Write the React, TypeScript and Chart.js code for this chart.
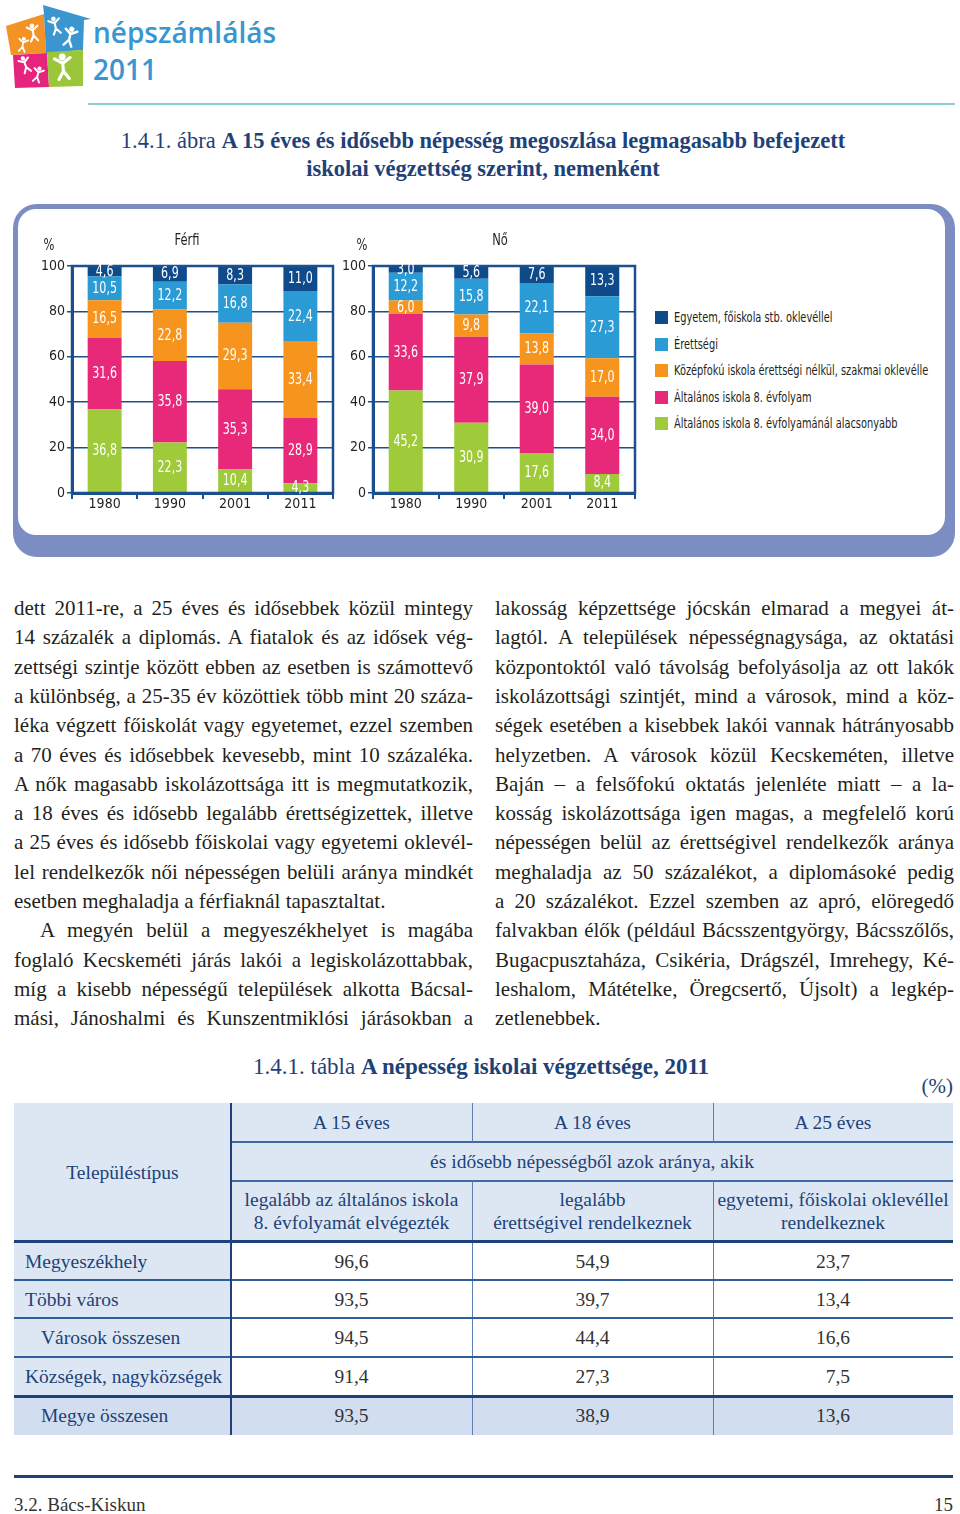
import React, { useEffect, useRef } from "react";
import { Chart, registerables } from "chart.js";

Chart.register(...registerables);

// ---------- chart data ----------
const years = ["1980", "1990", "2001", "2011"];
const levelNames = [
  "Egyetem, főiskola stb. oklevéllel",
  "Érettségi",
  "Középfokú iskola érettségi nélkül, szakmai oklevélle",
  "Általános iskola 8. évfolyam",
  "Általános iskola 8. évfolyamánál alacsonyabb",
];
const levelColors = ["#0f4a8a", "#2b9bd6", "#f7941d", "#e8297a", "#9fcb3b"];

const maleUniversity = [4.6, 6.9, 8.3, 11.0];
const maleMatura = [10.5, 12.2, 16.8, 22.4];
const maleVocational = [16.5, 22.8, 29.3, 33.4];
const malePrimary8 = [31.6, 35.8, 35.3, 28.9];
const maleBelow8 = [36.8, 22.3, 10.4, 4.3];

const femaleUniversity = [3.0, 5.6, 7.6, 13.3];
const femaleMatura = [12.2, 15.8, 22.1, 27.3];
const femaleVocational = [6.0, 9.8, 13.8, 17.0];
const femalePrimary8 = [33.6, 37.9, 39.0, 34.0];
const femaleBelow8 = [45.2, 30.9, 17.6, 8.4];

const yTickValues = [0, 20, 40, 60, 80, 100];

// ---------- table data ----------
const settlementTypes = [
  "Megyeszékhely",
  "Többi város",
  "Városok összesen",
  "Községek, nagyközségek",
  "Megye összesen",
];
const atLeastPrimary = [96.6, 93.5, 94.5, 91.4, 93.5];
const atLeastMatura = [54.9, 39.7, 44.4, 27.3, 38.9];
const withDegree = [23.7, 13.4, 16.6, 7.5, 13.6];

// ---------- body text ----------
const leftLines = [
  "dett 2011-re, a 25 éves és idősebbek közül mintegy",
  "14 százalék a diplomás. A fiatalok és az idősek vég-",
  "zettségi szintje között ebben az esetben is számottevő",
  "a különbség, a 25-35 év közöttiek több mint 20 száza-",
  "léka végzett főiskolát vagy egyetemet, ezzel szemben",
  "a 70 éves és idősebbek kevesebb, mint 10 százaléka.",
  "A nők magasabb iskolázottsága itt is megmutatkozik,",
  "a 18 éves és idősebb legalább érettségizettek, illetve",
  "a 25 éves és idősebb főiskolai vagy egyetemi oklevél-",
  "lel rendelkezők női népességen belüli aránya mindkét",
  "esetben meghaladja a férfiaknál tapasztaltat.",
  "A megyén belül a megyeszékhelyet is magába",
  "foglaló Kecskeméti járás lakói a legiskolázottabbak,",
  "míg a kisebb népességű települések alkotta Bácsal-",
  "mási, Jánoshalmi és Kunszentmiklósi járásokban a",
];
const rightLines = [
  "lakosság képzettsége jócskán elmarad a megyei át-",
  "lagtól. A települések népességnagysága, az oktatási",
  "központoktól való távolság befolyásolja az ott lakók",
  "iskolázottsági szintjét, mind a városok, mind a köz-",
  "ségek esetében a kisebbek lakói vannak hátrányosabb",
  "helyzetben. A városok közül Kecskeméten, illetve",
  "Baján – a felsőfokú oktatás jelenléte miatt – a la-",
  "kosság iskolázottsága igen magas, a megfelelő korú",
  "népességen belül az érettségivel rendelkezők aránya",
  "meghaladja az 50 százalékot, a diplomásoké pedig",
  "a 20 százalékot. Ezzel szemben az apró, elöregedő",
  "falvakban élők (például Bácsszentgyörgy, Bácsszőlős,",
  "Bugacpusztaháza, Csikéria, Drágszél, Imrehegy, Ké-",
  "leshalom, Mátételke, Öregcsertő, Újsolt) a legkép-",
  "zetlenebbek.",
];
const leftParagraphEnds = [10];
const leftIndents = [11];
const rightParagraphEnds = [14];

const AXIS = "#1b4f8e";
const NAVY = "#1e4277";
const NARROW = '"Liberation Sans Narrow", "DejaVu Sans Condensed", sans-serif';
const SERIF = '"Liberation Serif", "DejaVu Serif", serif';

const fmt = (v: number) => v.toFixed(1).replace(".", ",");

type Series = { label: string; data: number[]; color: string };

function condensedText(ctx: CanvasRenderingContext2D, text: string, x: number, y: number, sx: number) {
  ctx.save();
  ctx.translate(x, y);
  ctx.scale(sx, 1);
  ctx.fillText(text, 0, 0);
  ctx.restore();
}

function StackedBars(props: {
  left: number;
  top: number;
  width: number;
  height: number;
  yWidth: number;
  title: string;
  titleX: number;
  pctX: number;
  series: Series[];
}) {
  const ref = useRef<HTMLCanvasElement>(null);
  useEffect(() => {
    const canvas = ref.current!;
    const decor = {
      id: "decor",
      afterDatasetsDraw(chart: any) {
        const { ctx, chartArea: a } = chart;
        ctx.save();
        ctx.strokeStyle = AXIS;
        ctx.lineWidth = 2.5;
        ctx.strokeRect(a.left, a.top, a.right - a.left, a.bottom - a.top);
        ctx.fillStyle = "#ffffff";
        ctx.font = `15px ${NARROW}`;
        ctx.textAlign = "center";
        ctx.textBaseline = "middle";
        chart.data.datasets.forEach((ds: any, i: number) => {
          const meta = chart.getDatasetMeta(i);
          meta.data.forEach((bar: any, j: number) => {
            const p = bar.getProps(["x", "y", "base"], true);
            condensedText(ctx, fmt(ds.data[j]), p.x, (p.y + p.base) / 2 + 0.5, 0.82);
          });
        });
        ctx.fillStyle = "#231f20";
        condensedText(ctx, props.title, props.titleX, 11, 0.85);
        condensedText(ctx, "%", props.pctX, 16, 0.85);
        ctx.restore();
      },
    };
    const chart = new Chart(canvas, {
      type: "bar",
      data: {
        labels: years,
        datasets: props.series.map((s) => ({
          label: s.label,
          data: s.data,
          backgroundColor: s.color,
          borderWidth: 0,
          barPercentage: 0.52,
          categoryPercentage: 1,
        })),
      },
      options: {
        animation: false,
        responsive: false,
        maintainAspectRatio: false,
        devicePixelRatio: 1,
        layout: { padding: { left: 0, right: 7, top: 36, bottom: 0 } },
        plugins: {
          legend: { display: false },
          tooltip: { enabled: false },
          title: { display: false },
        },
        scales: {
          x: {
            stacked: true,
            offset: true,
            grid: {
              offset: true,
              drawOnChartArea: false,
              drawTicks: true,
              tickLength: 6,
              color: AXIS,
              lineWidth: 2,
            },
            border: { display: true, color: AXIS, width: 3 },
            ticks: {
              color: "#231f20",
              font: { family: NARROW, size: 14 },
              padding: -3,
              maxRotation: 0,
              autoSkip: false,
            },
            afterFit: (s: any) => {
              s.height = 37;
            },
          },
          y: {
            stacked: true,
            min: 0,
            max: 100,
            afterBuildTicks: (s: any) => {
              s.ticks = yTickValues.map((v) => ({ value: v }));
            },
            grid: {
              color: AXIS,
              lineWidth: 1.5,
              drawTicks: true,
              tickLength: 5,
            },
            border: { display: true, color: AXIS, width: 3 },
            ticks: {
              color: "#231f20",
              font: { family: NARROW, size: 14 },
              padding: 2,
            },
            afterFit: (s: any) => {
              s.width = props.yWidth;
            },
          },
        },
      },
      plugins: [decor],
    } as any);
    return () => chart.destroy();
  }, []);
  return (
    <canvas
      ref={ref}
      width={props.width}
      height={props.height}
      style={{
        position: "absolute",
        left: props.left,
        top: props.top,
        width: props.width,
        height: props.height,
      }}
    />
  );
}

function Figure({ x, y, s = 1, r = 0 }: { x: number; y: number; s?: number; r?: number }) {
  return (
    <g transform={`translate(${x},${y}) rotate(${r}) scale(${s})`} stroke="#fff" strokeWidth={2.4} strokeLinecap="round" fill="none">
      <circle cx={0} cy={-7} r={2.6} fill="#fff" stroke="none" />
      <path d="M0,-3 L0,4 M-6,-6 L0,-2 L6,-6 M0,4 L-4,10 M0,4 L4,10" />
    </g>
  );
}

function Logo() {
  return (
    <svg style={{ position: "absolute", left: 0, top: 0 }} width={92} height={92}>
      <polygon points="6,26 44,14 46,53 11,55" fill="#f39325" />
      <polygon points="43,5 91,19 84,20 83,50 46,53 44,14" fill="#3b95cf" />
      <polygon points="13,55 47,53 49,87 15,88" fill="#e5257d" />
      <polygon points="47,52 83,50 83,86 49,87" fill="#9cc63a" />
      <Figure x={33} y={32} s={0.9} r={-10} />
      <Figure x={23} y={44} s={0.75} r={10} />
      <Figure x={55} y={25} s={0.9} r={-15} />
      <Figure x={70} y={36} s={1} r={15} />
      <Figure x={25} y={64} s={0.85} r={-20} />
      <Figure x={38} y={74} s={0.8} r={15} />
      <Figure x={63} y={66} s={1.3} r={-5} />
    </svg>
  );
}

const abs = (left: number, top: number, extra: React.CSSProperties = {}): React.CSSProperties => ({
  position: "absolute",
  left,
  top,
  ...extra,
});

function Cell(props: {
  x: number;
  y: number;
  w: number;
  h: number;
  children: React.ReactNode;
  align?: "center" | "left";
  pad?: number;
  color?: string;
  lh?: number;
}) {
  return (
    <div
      style={{
        position: "absolute",
        left: props.x,
        top: props.y,
        width: props.w,
        height: props.h,
        display: "flex",
        alignItems: "center",
        justifyContent: props.align === "left" ? "flex-start" : "center",
        textAlign: props.align === "left" ? "left" : "center",
        paddingLeft: props.pad || 0,
        boxSizing: "border-box",
        color: props.color || NAVY,
        fontSize: 19.5,
        lineHeight: `${props.lh || 23}px`,
        whiteSpace: "pre",
      }}
    >
      {props.children}
    </div>
  );
}

function TextColumn({ lines, left, ends, indents }: { lines: string[]; left: number; ends: number[]; indents: number[] }) {
  return (
    <>
      {lines.map((t, i) => {
        const last = ends.includes(i);
        const ind = indents.includes(i) ? 26 : 0;
        return (
          <div
            key={i}
            style={{
              position: "absolute",
              left: left + ind,
              top: 594 + i * 29.3,
              width: 459 - ind,
              height: 29.3,
              lineHeight: "29.3px",
              fontSize: 21,
              color: "#231f20",
              whiteSpace: "nowrap",
              textAlign: last ? "left" : "justify",
              textAlignLast: last ? "left" : "justify",
            } as React.CSSProperties}
          >
            {t}
          </div>
        );
      })}
    </>
  );
}

export default function App() {
  const maleSeries: Series[] = [
    { label: levelNames[4], data: maleBelow8, color: levelColors[4] },
    { label: levelNames[3], data: malePrimary8, color: levelColors[3] },
    { label: levelNames[2], data: maleVocational, color: levelColors[2] },
    { label: levelNames[1], data: maleMatura, color: levelColors[1] },
    { label: levelNames[0], data: maleUniversity, color: levelColors[0] },
  ];
  const femaleSeries: Series[] = [
    { label: levelNames[4], data: femaleBelow8, color: levelColors[4] },
    { label: levelNames[3], data: femalePrimary8, color: levelColors[3] },
    { label: levelNames[2], data: femaleVocational, color: levelColors[2] },
    { label: levelNames[1], data: femaleMatura, color: levelColors[1] },
    { label: levelNames[0], data: femaleUniversity, color: levelColors[0] },
  ];

  const colX = [14, 231, 472, 713, 953];
  const rowY = [1242, 1280, 1318, 1357, 1396, 1435];
  const numCell = (v: number) => (v < 10 ? "\u2007" + fmt(v) : fmt(v));

  return (
    <div
      style={{
        position: "absolute",
        left: 0,
        top: 0,
        width: 960,
        height: 1514,
        background: "#ffffff",
        overflow: "hidden",
        fontFamily: SERIF,
      }}
    >
      <Logo />
      <div style={abs(93, 18, { fontFamily: '"Open Sans", sans-serif', fontWeight: 600, fontSize: 28, lineHeight: "28px", color: "#3a96cf" })}>népszámlálás</div>
      <div style={abs(93, 55, { fontFamily: '"Open Sans", sans-serif', fontWeight: 600, fontSize: 28, lineHeight: "28px", color: "#3a96cf" })}>2011</div>
      <div style={abs(88, 103, { width: 867, height: 2, background: "#8ccbcd" })} />

      <div style={abs(0, 127, { width: 966, textAlign: "center", fontSize: 22.5, lineHeight: "28px", color: NAVY, whiteSpace: "nowrap" })}>
        1.4.1. ábra <b>A 15 éves és idősebb népesség megoszlása legmagasabb befejezett</b>
      </div>
      <div style={abs(0, 155, { width: 966, textAlign: "center", fontSize: 22.5, lineHeight: "28px", color: NAVY, whiteSpace: "nowrap" })}>
        <b>iskolai végzettség szerint, nemenként</b>
      </div>

      {/* chart frame */}
      <div style={abs(13, 204, { width: 942, height: 353, borderRadius: 24, background: "#7b8dc3" })} />
      <div style={abs(18, 209, { width: 927, height: 326, borderRadius: 18, background: "#ffffff" })} />

      <StackedBars left={30} top={230} width={310} height={300} yWidth={42} title="Férfi" titleX={157} pctX={19} series={maleSeries} />
      <StackedBars left={340} top={230} width={302} height={300} yWidth={33} title="Nő" titleX={160} pctX={22} series={femaleSeries} />

      {levelNames.map((name, i) => (
        <React.Fragment key={name}>
          <div style={abs(655, 311 + i * 26.5, { width: 13, height: 13, background: levelColors[i] })} />
          <div
            style={abs(674, 308 + i * 26.5, {
              fontFamily: NARROW,
              fontSize: 14,
              lineHeight: "19px",
              color: "#231f20",
              whiteSpace: "nowrap",
              transform: "scaleX(0.78)",
              transformOrigin: "left center",
            })}
          >
            {name}
          </div>
        </React.Fragment>
      ))}

      <TextColumn lines={leftLines} left={14} ends={leftParagraphEnds} indents={leftIndents} />
      <TextColumn lines={rightLines} left={495} ends={rightParagraphEnds} indents={[]} />

      {/* table title */}
      <div style={abs(253, 1053, { fontSize: 23, lineHeight: "28px", color: NAVY, whiteSpace: "nowrap" })}>
        1.4.1. tábla <b>A népesség iskolai végzettsége, 2011</b>
      </div>
      <div style={abs(900, 1072, { width: 53, textAlign: "right", fontSize: 21, lineHeight: "28px", color: NAVY })}>(%)</div>

      {/* table backgrounds */}
      <div style={abs(14, 1103, { width: 939, height: 139, background: "#dde7f4" })} />
      <div style={abs(14, 1242, { width: 217, height: 154, background: "#dde7f4" })} />
      <div style={abs(14, 1396, { width: 939, height: 39, background: "#d2def0" })} />

      {/* table lines */}
      {[1142, 1181].map((y) => (
        <div key={y} style={abs(231, y - 1, { width: 722, height: 1.5, background: "#3f69a3" })} />
      ))}
      {[472, 713].map((x) => (
        <React.Fragment key={x}>
          <div style={abs(x, 1103, { width: 1, height: 39, background: "#5b7fb0" })} />
          <div style={abs(x, 1181, { width: 1, height: 254, background: "#5b7fb0" })} />
        </React.Fragment>
      ))}
      {[1280, 1318, 1357].map((y) => (
        <div key={y} style={abs(14, y - 1, { width: 939, height: 1.5, background: "#2f5f9a" })} />
      ))}
      <div style={abs(14, 1240, { width: 939, height: 2.5, background: NAVY })} />
      <div style={abs(14, 1395, { width: 939, height: 2.5, background: NAVY })} />
      <div style={abs(230, 1103, { width: 2, height: 332, background: NAVY })} />

      {/* table header text */}
      <Cell x={14} y={1103} w={217} h={139}>Településtípus</Cell>
      <Cell x={231} y={1103} w={241} h={39}>A 15 éves</Cell>
      <Cell x={472} y={1103} w={241} h={39}>A 18 éves</Cell>
      <Cell x={713} y={1103} w={240} h={39}>A 25 éves</Cell>
      <Cell x={231} y={1142} w={722} h={39}>és idősebb népességből azok aránya, akik</Cell>
      <Cell x={231} y={1181} w={241} h={60}>{"legalább az általános iskola\n8. évfolyamát elvégezték"}</Cell>
      <Cell x={472} y={1181} w={241} h={60}>{"legalább\nérettségivel rendelkeznek"}</Cell>
      <Cell x={713} y={1181} w={240} h={60}>{"egyetemi, főiskolai oklevéllel\nrendelkeznek"}</Cell>

      {/* table body */}
      {settlementTypes.map((name, i) => (
        <React.Fragment key={name}>
          <Cell x={14} y={rowY[i]} w={217} h={rowY[i + 1] - rowY[i]} align="left" pad={i === 2 || i === 4 ? 27 : 11}>
            {name}
          </Cell>
          <Cell x={colX[1]} y={rowY[i]} w={241} h={rowY[i + 1] - rowY[i]} color="#333333">{numCell(atLeastPrimary[i])}</Cell>
          <Cell x={colX[2]} y={rowY[i]} w={241} h={rowY[i + 1] - rowY[i]} color="#333333">{numCell(atLeastMatura[i])}</Cell>
          <Cell x={colX[3]} y={rowY[i]} w={240} h={rowY[i + 1] - rowY[i]} color="#333333">{numCell(withDegree[i])}</Cell>
        </React.Fragment>
      ))}

      {/* footer */}
      <div style={abs(14, 1475, { width: 939, height: 3, background: NAVY })} />
      <div style={abs(14, 1492, { fontSize: 19, lineHeight: "26px", color: "#333333" })}>3.2. Bács-Kiskun</div>
      <div style={abs(900, 1492, { width: 53, textAlign: "right", fontSize: 19, lineHeight: "26px", color: "#333333" })}>15</div>
    </div>
  );
}
